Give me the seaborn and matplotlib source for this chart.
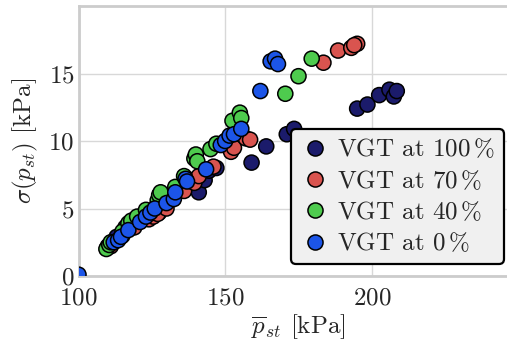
import numpy as np
import pandas as pd
import matplotlib
matplotlib.use("Agg")
import matplotlib.pyplot as plt
import seaborn as sns

# ---- data ----
labels = ["VGT at 100$\\,\\%$", "VGT at 70$\\,\\%$", "VGT at 40$\\,\\%$", "VGT at 0$\\,\\%$"]
colors = ["#1b1b6b", "#d9544f", "#4ecb4e", "#1c55e8"]

x_100 = [110, 113, 116, 118, 121, 124, 126, 127.5, 128, 131, 135, 138, 141, 143, 144.5, 147,
         159, 164, 171, 173.5, 195, 198.5, 202.5, 206, 207.5, 208.5]
y_100 = [2.2, 2.9, 3.6, 3.9, 4.2, 4.5, 4.8, 4.7, 5.2, 5.6, 6.4, 6.7, 6.2, 7.1, 7.8, 8.0,
         8.4, 9.6, 10.5, 10.9, 12.4, 12.7, 13.4, 13.8, 13.3, 13.7]

x_70 = [111, 115, 119, 124, 125.5, 127, 130, 136, 138.5, 139.5, 141, 146, 152, 153, 157, 158.5,
        183.5, 188.5, 193, 195, 194]
y_70 = [2.2, 3.0, 3.6, 4.2, 4.4, 4.6, 5.0, 6.3, 7.1, 6.9, 7.4, 8.1, 9.2, 9.5, 10.2, 10.1,
        15.8, 16.7, 16.9, 17.2, 17.1]

x_40 = [109.5, 110.5, 111, 115, 117, 118, 120, 123, 127, 127.5, 128, 133, 136, 139.5, 140, 140.5,
        145, 147, 152.5, 155, 155.5, 170.5, 175, 179.5]
y_40 = [2.0, 2.3, 2.5, 3.3, 3.9, 4.1, 4.4, 4.9, 5.6, 6.0, 6.2, 6.6, 7.4, 8.7, 9.0, 8.5,
        9.4, 9.8, 11.5, 12.1, 11.7, 13.5, 14.8, 16.1]

x_0 = [100, 112, 113.5, 114.5, 117, 121, 123, 124.5, 126, 130, 132.5, 133, 136.5, 137, 143.5,
       148.5, 150, 151.5, 153, 155.5, 162, 165.5, 167, 168]
y_0 = [0.1, 2.5, 2.65, 2.9, 3.4, 4.0, 4.4, 4.7, 5.0, 5.4, 5.7, 6.2, 7.2, 7.0, 7.9,
       9.7, 10.0, 10.4, 10.5, 10.9, 13.7, 15.9, 16.1, 15.7]

xs = [x_100, x_70, x_40, x_0]
ys = [y_100, y_70, y_40, y_0]

df = pd.concat([pd.DataFrame({"p": x, "s": y, "case": lab}) for x, y, lab in zip(xs, ys, labels)],
               ignore_index=True)

# ---- style ----
sns.set_theme(style="white")
plt.rcParams["font.family"] = ["cmr10", "DejaVu Serif"]
plt.rcParams["mathtext.fontset"] = "cm"
plt.rcParams["axes.unicode_minus"] = False
plt.rcParams["axes.formatter.use_mathtext"] = True

fig = plt.figure(figsize=(5.07, 3.47), dpi=100)
ax = fig.add_axes([78.5 / 507, 71 / 347, 440 / 507, 270 / 347])

sns.scatterplot(data=df, x="p", y="s", hue="case", hue_order=labels, palette=colors,
                s=118, edgecolor="black", linewidth=1.1, alpha=1, ax=ax, zorder=3, clip_on=True)

ax.set_xlim(100, 250)
ax.set_ylim(0, 20)
ax.set_xticks([100, 150, 200])
ax.set_yticks([0, 5, 10, 15])
ax.set_xticks(np.arange(100, 251, 10), minor=True)
ax.set_yticks(np.arange(0, 21, 1), minor=True)
ax.grid(True, which="major", color="#d8d8d8", linewidth=1.0, zorder=0)
ax.set_axisbelow(True)
ax.tick_params(which="major", direction="in", length=5, width=1, color="#bbbbbb",
               labelsize=18)
ax.tick_params(axis="x", which="major", pad=8)
ax.tick_params(axis="y", which="major", pad=3)
ax.tick_params(which="minor", direction="in", length=3, width=0.8, color="#bbbbbb")
for sp in ax.spines.values():
    sp.set_color("#cccccc")
    sp.set_linewidth(2)

ax.set_xlabel(r"$\overline{p}_{st}$ [kPa]", fontsize=18, labelpad=2)
ax.set_ylabel(r"$\sigma(p_{st})$ [kPa]", fontsize=18, labelpad=6)

leg = ax.legend(loc="lower right", bbox_to_anchor=((504 - 78.5) / 440, (276 - 264) / 270),
                borderaxespad=0, fontsize=18, frameon=True, fancybox=True, framealpha=1,
                facecolor="#f0f0f0", edgecolor="black", handletextpad=0.3,
                labelspacing=0.3, borderpad=0.35, handlelength=1.2, markerscale=1.0)
leg.get_frame().set_linewidth(1.6)
leg.set_zorder(10)

fig.savefig("out.png", dpi=100)
